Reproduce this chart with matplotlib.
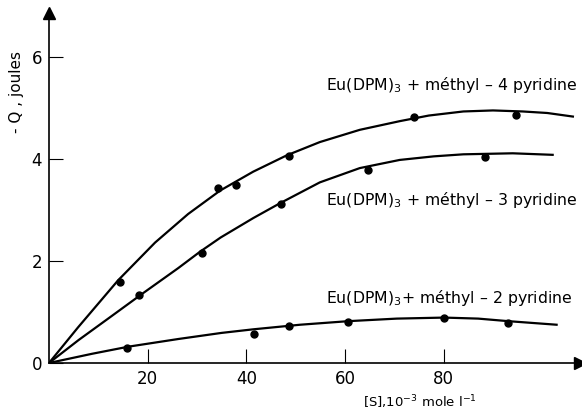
import matplotlib
matplotlib.use('Agg')
import matplotlib.pyplot as plt

x_4pyr = [14.4, 34.3, 38.0, 48.7, 74.0, 94.6]
y_4pyr = [1.59, 3.43, 3.49, 4.06, 4.83, 4.86]
x_3pyr = [18.3, 31.1, 47.0, 64.7, 88.3]
y_3pyr = [1.33, 2.15, 3.12, 3.78, 4.03]
x_2pyr = [15.9, 41.5, 48.6, 60.7, 80.1, 93.1]
y_2pyr = [0.29, 0.57, 0.73, 0.80, 0.88, 0.79]

# Courbes tracées à la main (points relevés le long des traits)
cx_4pyr = [0, 5.9, 14.0, 21.5, 28.2, 34.7, 41.4, 48.2, 54.9, 63.0, 71.1, 77, 84, 90, 96, 101, 106.2]
cy_4pyr = [0, 0.70, 1.62, 2.36, 2.92, 3.38, 3.75, 4.07, 4.33, 4.57, 4.74, 4.85, 4.93, 4.95, 4.93, 4.90, 4.83]
cx_3pyr = [0, 6.0, 12.7, 18.8, 26.2, 30.6, 34.8, 41.4, 46.8, 54.9, 63.0, 71.1, 78, 84, 94, 102.1]
cy_3pyr = [0, 0.45, 0.92, 1.35, 1.86, 2.18, 2.46, 2.84, 3.13, 3.54, 3.82, 3.98, 4.05, 4.09, 4.11, 4.08]
cx_2pyr = [0, 8.7, 16.1, 26.2, 35.0, 41.4, 50.9, 60.7, 70.5, 80.1, 87, 93.1, 102.9]
cy_2pyr = [0, 0.18, 0.32, 0.47, 0.59, 0.66, 0.75, 0.82, 0.87, 0.89, 0.87, 0.82, 0.75]

fig = plt.figure(figsize=(5.82, 4.11), dpi=100)
ax = fig.add_axes([0.0842, 0.1168, 0.912, 0.8516])

for cx, cy in [(cx_4pyr, cy_4pyr), (cx_3pyr, cy_3pyr), (cx_2pyr, cy_2pyr)]:
    ax.plot(cx, cy, color='black', lw=1.6, solid_joinstyle='round')
for x, y in [(x_4pyr, y_4pyr), (x_3pyr, y_3pyr), (x_2pyr, y_2pyr)]:
    ax.plot(x, y, 'o', color='black', ms=5)

ax.set_xlim(0, 107.6)
ax.set_ylim(0, 6.86)
ax.spines['top'].set_visible(False)
ax.spines['right'].set_visible(False)
ax.spines['left'].set_linewidth(1.2)
ax.spines['bottom'].set_linewidth(1.2)
ax.plot(1, 0, '>', color='black', ms=8, transform=ax.transAxes, clip_on=False)
ax.plot(0, 1, '^', color='black', ms=9, transform=ax.transAxes, clip_on=False)

ax.set_xticks([20, 40, 60, 80])
ax.set_yticks([0, 2, 4, 6])
ax.tick_params(direction='in', length=10, width=0.8, labelsize=12, pad=5)

ax.text(56.1, 5.45, 'Eu(DPM)$_3$ + méthyl – 4 pyridine', fontsize=11.3, va='center')
ax.text(56.1, 3.2, 'Eu(DPM)$_3$ + méthyl – 3 pyridine', fontsize=11.3, va='center')
ax.text(56.1, 1.27, 'Eu(DPM)$_3$+ méthyl – 2 pyridine', fontsize=11.3, va='center')

fig.text(17 / 582, 1 - 92 / 411, '- Q , joules', rotation=90, fontsize=11, ha='center', va='center')
fig.text(420 / 582, 1 - 402 / 411, '[S],10$^{-3}$ mole l$^{-1}$', fontsize=9.5, ha='center', va='center')

plt.savefig('out.png', dpi=100)
plt.close()
